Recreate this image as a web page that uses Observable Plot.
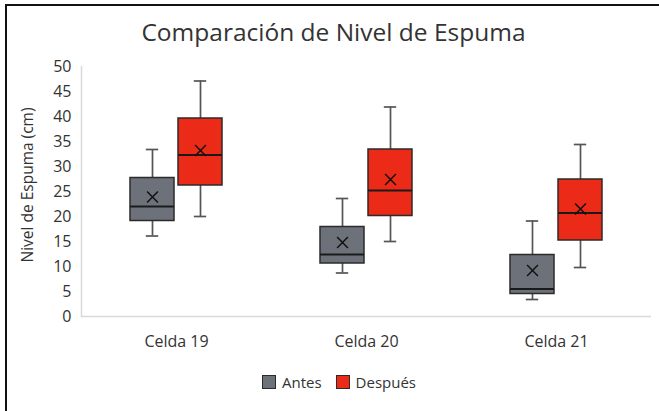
<!DOCTYPE html>
<html>
<head>
<meta charset="utf-8">
<script src="https://cdn.jsdelivr.net/npm/d3@7"></script>
<script src="https://cdn.jsdelivr.net/npm/@observablehq/plot@0.6"></script>
<style>
  html, body { margin: 0; padding: 0; background: #fff; }
  body { width: 659px; height: 411px; position: relative; overflow: hidden; font-family: "Open Sans", sans-serif; color: #333; }
  #border { position: absolute; left: 5px; top: 4px; right: -20px; bottom: -20px; border-top: 2.5px solid #111; border-left: 2.5px solid #111; }
  #title { position: absolute; top: 13px; left: 0; width: 667px; text-align: center; font-size: 24.5px; line-height: 38px; color: #333; }
  #chart { position: absolute; top: 50px; left: 0; }
  #ylabel { position: absolute; left: 27px; top: 185px; transform: translate(-50%, -50%) rotate(-90deg); font-size: 15.5px; white-space: nowrap; color: #333; }
  #legend { position: absolute; top: 373px; left: 262px; display: flex; align-items: center; font-size: 15px; color: #333; }
  .sw { width: 12px; height: 12px; border: 1.5px solid #2b2b2b; display: inline-block; margin-right: 6px; }
  .item { display: flex; align-items: center; margin-right: 14px; line-height: 18px; }
</style>
</head>
<body>
<div id="border"></div>
<div id="title">Comparación de Nivel de Espuma</div>
<div id="ylabel">Nivel de Espuma (cm)</div>
<div id="chart"></div>
<div id="legend"></div>
<script>
const categories = ["Celda 19", "Celda 20", "Celda 21"];
const series = ["Antes", "Después"];
const colors = ["#6d727a", "#eb2a17"];
const yTicks = [0, 5, 10, 15, 20, 25, 30, 35, 40, 45, 50];

// Antes
const antesMin    = [16.1, 8.7, 3.4];
const antesQ1     = [19.1, 10.6, 4.5];
const antesMedian = [22.0, 12.4, 5.5];
const antesQ3     = [27.7, 17.9, 12.3];
const antesMax    = [33.4, 23.6, 19.1];
const antesMean   = [23.9, 14.8, 9.2];
// Después
const despuesMin    = [20.0, 15.0, 9.8];
const despuesQ1     = [26.2, 20.1, 15.2];
const despuesMedian = [32.3, 25.2, 20.7];
const despuesQ3     = [39.6, 33.4, 27.4];
const despuesMax    = [47.1, 41.9, 34.4];
const despuesMean   = [33.2, 27.4, 21.5];

const rows = [];
categories.forEach((c, i) => {
  rows.push({cat: c, serie: series[0], min: antesMin[i], q1: antesQ1[i], median: antesMedian[i], q3: antesQ3[i], max: antesMax[i], mean: antesMean[i]});
  rows.push({cat: c, serie: series[1], min: despuesMin[i], q1: despuesQ1[i], median: despuesMedian[i], q3: despuesQ3[i], max: despuesMax[i], mean: despuesMean[i]});
});

const whisker = "#555";
const chart = Plot.plot({
  width: 659,
  height: 310,
  marginTop: 16,
  marginBottom: 44,
  marginLeft: 80,
  marginRight: 7,
  style: {fontFamily: "Open Sans", fontSize: "16px", color: "#333", background: "transparent"},
  fx: {domain: categories, padding: 0, axis: null},
  x: {domain: series, paddingInner: 0.085, paddingOuter: 1.0, axis: null},
  y: {domain: [0, 50], axis: null},
  color: {domain: series, range: colors},
  marks: [
    Plot.ruleY([0], {stroke: "#d9d9d9", strokeWidth: 1.5}),
    Plot.frame({anchor: "left", stroke: "#d9d9d9", strokeWidth: 1.5, fx: () => categories[0]}),
    Plot.axisY({ticks: yTicks, tickSize: 0, tickPadding: 10, label: null, fontSize: 16}),
    Plot.axisFx({anchor: "bottom", tickSize: 0, tickPadding: 19, label: null, fontSize: 16}),
    Plot.ruleX(rows, {fx: "cat", x: "serie", y1: "min", y2: "max", stroke: whisker, strokeWidth: 1.7}),
    Plot.tickY(rows, {fx: "cat", x: "serie", y: "min", inset: 15.8, stroke: whisker, strokeWidth: 1.7}),
    Plot.tickY(rows, {fx: "cat", x: "serie", y: "max", inset: 15.8, stroke: whisker, strokeWidth: 1.7}),
    Plot.barY(rows, {fx: "cat", x: "serie", y1: "q1", y2: "q3", fill: "serie", stroke: "#2b2b2b", strokeWidth: 1.5}),
    Plot.tickY(rows, {fx: "cat", x: "serie", y: "median", stroke: "#1a1a1a", strokeWidth: 2}),
    Plot.dot(rows, {fx: "cat", x: "serie", y: "mean", symbol: "times", r: 5, stroke: "#111", strokeWidth: 1.5})
  ]
});
document.getElementById("chart").appendChild(chart);

const legend = document.getElementById("legend");
series.forEach((s, i) => {
  const item = document.createElement("div");
  item.className = "item";
  const sw = document.createElement("span");
  sw.className = "sw";
  sw.style.background = colors[i];
  item.appendChild(sw);
  item.appendChild(document.createTextNode(s));
  legend.appendChild(item);
});
</script>
</body>
</html>
